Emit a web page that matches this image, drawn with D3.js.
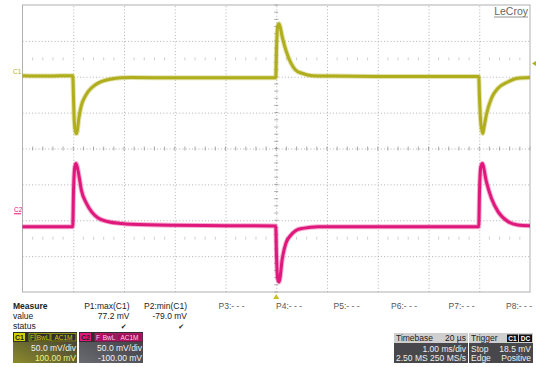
<!DOCTYPE html>
<html><head><meta charset="utf-8">
<script src="https://cdn.jsdelivr.net/npm/d3@7"></script>
<style>
body{margin:0;background:#fff;}
svg{display:block;font-family:"Liberation Sans",Arial,sans-serif;}
</style>
</head><body>
<svg id="c" width="540" height="367"></svg>
<script>
// ---------- data (time in ms, voltage in mV) ----------
const c1Time  = [0, 0.5, 0.99, 1.005, 1.02, 1.05, 1.07, 1.11, 1.16, 1.23, 1.30, 1.43, 1.56, 1.76, 1.95, 2.15, 3, 4, 4.99, 5.005, 5.03, 5.055, 5.12, 5.19, 5.29, 5.38, 5.52, 5.71, 6.11, 7, 8, 8.99, 9.005, 9.03, 9.07, 9.09, 9.14, 9.24, 9.37, 9.57, 9.76, 10];
const c1Value = [1.5, 1, 1.5, -30, -62, -79, -79, -58, -40, -28, -20, -11.5, -6.6, -3, -1.5, -1, -1.5, -1.5, -1.5, 40, 71, 74, 55, 37, 19, 9.5, 4.5, 1.5, 1, 0.5, 0.5, 0.5, -30, -64, -79, -72, -53, -30, -16, -7, -2, -1];
const c2Time  = [0, 0.99, 1.005, 1.03, 1.055, 1.11, 1.16, 1.26, 1.36, 1.49, 1.69, 1.95, 2.15, 3, 4, 4.99, 5.005, 5.03, 5.055, 5.12, 5.19, 5.29, 5.38, 5.52, 5.83, 7, 8.99, 9.005, 9.03, 9.06, 9.14, 9.24, 9.37, 9.57, 9.76, 10];
const c2Value = [-9, -9, 40, 74, 79, 63, 42, 23.6, 12, 3, -2, -4.5, -5.5, -7, -7.5, -8, -50, -82, -86, -53, -32, -20.6, -14.6, -11.3, -9, -9, -9, 40, 74, 79, 53.7, 30.6, 12, -2, -6.5, -7.5];

const channelNames   = ["C1", "C2"];
const channelOffset  = [100, -100];   // mV
const channelScale   = [50, 50];      // mV/div
const triggerLevel   = 18.5;          // mV on C1
const triggerTime    = 5;             // ms (centre)

const measureParams  = ["P1:max(C1)", "P2:min(C1)", "P3:- - -", "P4:- - -", "P5:- - -", "P6:- - -", "P7:- - -", "P8:- - -"];
const measureValues  = ["77.2 mV", "-79.0 mV", "", "", "", "", "", ""];
const measureStatus  = ["\u2714", "\u2714", "", "", "", "", "", ""];
const chanScaleText  = ["50.0 mV/div", "50.0 mV/div"];
const chanOffsetText = ["100.00 mV", "-100.00 mV"];
const timebaseText   = ["Timebase", "20 \u00b5s", "1.00 ms/div", "2.50 MS", "250 MS/s"];
const triggerText    = ["Trigger", "C1", "DC", "Stop", "18.5 mV", "Edge", "Positive"];

// ---------- layout ----------
const svg = d3.select("#c");
const L = 22.5, R = 530, T = 5, B = 292;
const x = d3.scaleLinear().domain([0, 10]).range([L, R]);
const yDiv = d3.scaleLinear().domain([-4, 4]).range([B, T]);
const yCh = (i, v) => yDiv((v + channelOffset[i]) / channelScale[i]);
const colC1 = "#b0ae1c", colC2 = "#e0187c";
const gridCol = "#a0a0a0";

// grid via axes
const gx = svg.append("g").attr("transform", `translate(0,${B})`)
  .call(d3.axisBottom(x).ticks(10).tickSize(-(B - T)).tickFormat(""));
gx.select(".domain").remove();
gx.selectAll(".tick line").attr("stroke", gridCol).attr("stroke-width", 0.8).attr("stroke-dasharray", "1,2.2")
  .filter(d => d === 0 || d === 10).remove();
const gy = svg.append("g").attr("transform", `translate(${L},0)`)
  .call(d3.axisLeft(yDiv).ticks(8).tickSize(-(R - L)).tickFormat(""));
gy.select(".domain").remove();
gy.selectAll(".tick line").attr("stroke", gridCol).attr("stroke-width", 0.8).attr("stroke-dasharray", "1,2.2")
  .filter(d => d === -4 || d === 4).remove();

// minor ticks on centre lines
const minorX = d3.range(0, 10.001, 0.2);
const minorY = d3.range(-4, 4.001, 0.2);
svg.append("g").selectAll("line").data(minorX).join("line")
  .attr("x1", d => x(d)).attr("x2", d => x(d))
  .attr("y1", yDiv(0) - 2).attr("y2", yDiv(0) + 2)
  .attr("stroke", "#888").attr("stroke-width", 0.7);
svg.append("g").selectAll("line").data(minorY).join("line")
  .attr("y1", d => yDiv(d)).attr("y2", d => yDiv(d))
  .attr("x1", x(5) - 2).attr("x2", x(5) + 2)
  .attr("stroke", "#888").attr("stroke-width", 0.7);
// faint tick rows at +-2.5 div
[2.5, -2.5].forEach(r => {
  svg.append("g").selectAll("line").data(minorX.filter((d, i) => i % 5 !== 0)).join("line")
    .attr("x1", d => x(d)).attr("x2", d => x(d))
    .attr("y1", yDiv(r) - 1.5).attr("y2", yDiv(r) + 1.5)
    .attr("stroke", "#bbb").attr("stroke-width", 0.7);
});

// border
svg.append("rect").attr("x", L).attr("y", T).attr("width", R - L).attr("height", B - T)
  .attr("fill", "none").attr("stroke", "#b0b0b0").attr("stroke-width", 1);

// traces: a soft noise band under a solid core
const line = d3.line().x(d => x(d[0])).y(d => d[1]).curve(d3.curveMonotoneX);
const tr1 = c1Time.map((t, i) => [t, yCh(0, c1Value[i])]);
const tr2 = c2Time.map((t, i) => [t, yCh(1, c2Value[i])]);
[[tr2, colC2], [tr1, colC1]].forEach(([d, c]) => {
  svg.append("path").attr("d", line(d)).attr("fill", "none").attr("stroke", c)
    .attr("stroke-width", 5).attr("stroke-opacity", 0.35).attr("stroke-linejoin", "round");
  svg.append("path").attr("d", line(d)).attr("fill", "none").attr("stroke", c)
    .attr("stroke-width", 3).attr("stroke-linejoin", "round");
});

// channel labels at left
svg.append("text").attr("x", 13).attr("y", yCh(0, 0) - 2.5).attr("font-size", 6.5).attr("fill", colC1).text(channelNames[0]);
svg.append("text").attr("x", 14).attr("y", yCh(1, 0) - 8.5).attr("font-size", 6.5).attr("fill", colC2).text(channelNames[1]);
svg.append("line").attr("x1", 14).attr("x2", 21).attr("y1", yCh(1, 0) - 6.5).attr("y2", yCh(1, 0) - 6.5).attr("stroke", colC2).attr("stroke-width", 1);

// trigger level marker (right) and trigger position marker (bottom)
const ty = yCh(0, triggerLevel);
svg.append("path").attr("d", `M${R + 2},${ty} L${R + 6},${ty - 2.5} L${R + 6},${ty + 2.5}Z`).attr("fill", colC1);
const tx = x(triggerTime);
svg.append("path").attr("d", `M${tx},${B + 2} L${tx - 3},${B + 7} L${tx + 3},${B + 7}Z`).attr("fill", "#c8c020");

// LeCroy logo
svg.append("text").attr("x", 528).attr("y", 15).attr("text-anchor", "end").attr("font-size", 10.5)
  .attr("fill", "#666").text("LeCroy");
svg.append("line").attr("x1", 494).attr("x2", 528).attr("y1", 17).attr("y2", 17).attr("stroke", "#777").attr("stroke-width", 0.8);

// ---------- measure table ----------
const fs = 8.5;
const mt = svg.append("g").attr("font-size", fs).attr("fill", "#222");
mt.append("text").attr("x", 13).attr("y", 308.5).attr("font-weight", "bold").text("Measure");
mt.append("text").attr("x", 13).attr("y", 318.5).text("value");
mt.append("text").attr("x", 13).attr("y", 328.5).text("status");
measureParams.forEach((p, i) => {
  const rx = 129.5 + i * 57.5;
  mt.append("text").attr("x", rx).attr("y", 308.5).attr("text-anchor", "end")
    .attr("fill", i < 2 ? "#222" : "#555").text(p);
  if (measureValues[i]) mt.append("text").attr("x", rx).attr("y", 318.5).attr("text-anchor", "end").text(measureValues[i]);
  if (measureStatus[i]) mt.append("text").attr("x", rx - 3).attr("y", 328.5).attr("text-anchor", "end")
    .attr("font-family", "DejaVu Sans").attr("font-size", 7).text(measureStatus[i]);
});

// ---------- descriptor boxes ----------
const defs = svg.append("defs");
function grad(id, c0, c1) {
  const g = defs.append("linearGradient").attr("id", id).attr("x1", "0").attr("y1", "1").attr("x2", "1").attr("y2", "0");
  g.append("stop").attr("offset", "0").attr("stop-color", c0);
  g.append("stop").attr("offset", "1").attr("stop-color", c1);
}
grad("g1", "#8c8a2a", "#3a3a3a");
grad("g2", "#6a6a72", "#3a3a3e");

function chanBox(i, bx, col, accent) {
  const g = svg.append("g");
  const w = 64, h = 31, by = 332;
  g.append("rect").attr("x", bx).attr("y", by).attr("width", w).attr("height", h).attr("fill", `url(#g${i + 1})`);
  g.append("rect").attr("x", bx).attr("y", by).attr("width", w).attr("height", 10).attr("fill", "#2e2e2e");
  g.append("rect").attr("x", bx + 1).attr("y", by + 1).attr("width", 11).attr("height", 8).attr("fill", col);
  g.append("text").attr("x", bx + 6.5).attr("y", by + 8).attr("text-anchor", "middle").attr("font-size", 7)
    .attr("font-weight", "bold").attr("fill", "#222").text(channelNames[i]);
  const tags = [["F", 16, 6], ["BwL", 23, 14], ["AC1M", 38, 25]];
  tags.forEach(([t, ox, tw]) => {
    g.append("rect").attr("x", bx + ox).attr("y", by + 1.5).attr("width", tw).attr("height", 7.5)
      .attr("fill", accent).attr("stroke", col).attr("stroke-width", 0.6);
    g.append("text").attr("x", bx + ox + tw / 2).attr("y", by + 8).attr("text-anchor", "middle")
      .attr("font-size", 6.5).attr("fill", i === 0 ? col : "#ffd0e8").text(t);
  });
  g.append("text").attr("x", bx + w - 1).attr("y", by + 18.5).attr("text-anchor", "end").attr("font-size", fs)
    .attr("fill", "#f0f0f0").text(chanScaleText[i]);
  g.append("text").attr("x", bx + w - 1).attr("y", by + 29).attr("text-anchor", "end").attr("font-size", fs)
    .attr("fill", i === 0 ? "#f0f07a" : "#f0f0f0").text(chanOffsetText[i]);
}
chanBox(0, 13, "#d2d000", "#2e2e2e");
chanBox(1, 79, "#e0187c", "#a0105a");

// timebase box
(function () {
  const bx = 394, by = 333, w = 74, h = 30;
  const g = svg.append("g").attr("font-size", fs);
  g.append("rect").attr("x", bx).attr("y", by).attr("width", w).attr("height", h).attr("fill", "#48484c");
  g.append("rect").attr("x", bx).attr("y", by).attr("width", w).attr("height", 10).attr("fill", "#cfcfcf");
  g.append("text").attr("x", bx + 2).attr("y", by + 8).attr("fill", "#222").text(timebaseText[0]);
  g.append("text").attr("x", bx + w - 2).attr("y", by + 8).attr("text-anchor", "end").attr("fill", "#222").text(timebaseText[1]);
  g.append("text").attr("x", bx + w - 2).attr("y", by + 18.5).attr("text-anchor", "end").attr("fill", "#eee").text(timebaseText[2]);
  g.append("text").attr("x", bx + 2).attr("y", by + 28).attr("fill", "#eee").text(timebaseText[3]);
  g.append("text").attr("x", bx + w - 2).attr("y", by + 28).attr("text-anchor", "end").attr("fill", "#eee").text(timebaseText[4]);
})();
// trigger box
(function () {
  const bx = 469, by = 333, w = 64, h = 30;
  const g = svg.append("g").attr("font-size", fs);
  g.append("rect").attr("x", bx).attr("y", by).attr("width", w).attr("height", h).attr("fill", "#48484c");
  g.append("rect").attr("x", bx).attr("y", by).attr("width", w).attr("height", 10).attr("fill", "#cfcfcf");
  g.append("text").attr("x", bx + 2).attr("y", by + 8).attr("fill", "#222").text(triggerText[0]);
  g.append("rect").attr("x", bx + 38).attr("y", by + 1.5).attr("width", 11).attr("height", 7.5).attr("fill", "#111");
  g.append("text").attr("x", bx + 43.5).attr("y", by + 8).attr("text-anchor", "middle").attr("font-size", 6.5).attr("font-weight", "bold").attr("fill", "#fff").text(triggerText[1]);
  g.append("rect").attr("x", bx + 50).attr("y", by + 1.5).attr("width", 13).attr("height", 7.5).attr("fill", "#111");
  g.append("text").attr("x", bx + 56.5).attr("y", by + 8).attr("text-anchor", "middle").attr("font-size", 6.5).attr("font-weight", "bold").attr("fill", "#fff").text(triggerText[2]);
  g.append("text").attr("x", bx + 2).attr("y", by + 18.5).attr("fill", "#eee").text(triggerText[3]);
  g.append("text").attr("x", bx + w - 2).attr("y", by + 18.5).attr("text-anchor", "end").attr("fill", "#eee").text(triggerText[4]);
  g.append("text").attr("x", bx + 2).attr("y", by + 28).attr("fill", "#eee").text(triggerText[5]);
  g.append("text").attr("x", bx + w - 2).attr("y", by + 28).attr("text-anchor", "end").attr("fill", "#eee").text(triggerText[6]);
})();
</script>
</body></html>
